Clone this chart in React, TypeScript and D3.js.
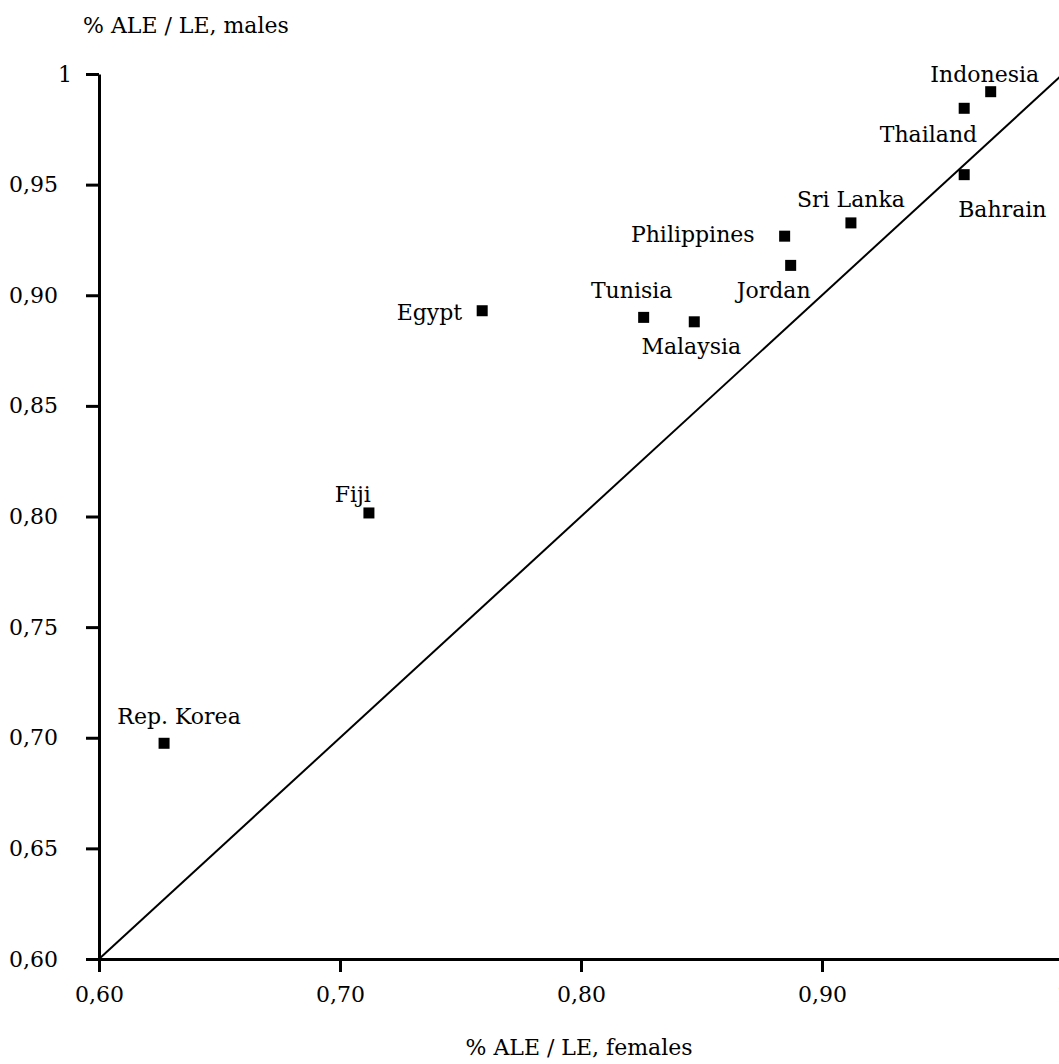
import React, { useRef, useEffect } from "react";
import * as d3 from "d3";

// Country ratios of active life expectancy to life expectancy
const countries = [
  "Indonesia",
  "Thailand",
  "Bahrain",
  "Sri Lanka",
  "Philippines",
  "Jordan",
  "Tunisia",
  "Malaysia",
  "Egypt",
  "Fiji",
  "Rep. Korea",
];
const females = [0.97, 0.959, 0.959, 0.912, 0.8845, 0.887, 0.826, 0.847, 0.759, 0.712, 0.627];
const males = [0.992, 0.9845, 0.9545, 0.9327, 0.9267, 0.9135, 0.89, 0.888, 0.893, 0.8016, 0.6975];

// label placement relative to each marker: [dx, dy, anchor]
const labelPos: [number, number, string][] = [
  [-6, -10, "middle"],
  [13, 34, "end"],
  [-6, 42, "start"],
  [0, -16, "middle"],
  [-30, 6, "end"],
  [-17, 33, "middle"],
  [-12, -19, "middle"],
  [-3, 32, "middle"],
  [-20, 9, "end"],
  [2, -11, "end"],
  [15, -19, "middle"],
];

const xTicks = [0.6, 0.7, 0.8, 0.9, 1];
const yTicks = [0.6, 0.65, 0.7, 0.75, 0.8, 0.85, 0.9, 0.95, 1];

const xTitle = "% ALE / LE, females";
const yTitle = "% ALE / LE, males";

const App = () => {
  const ref = useRef<SVGSVGElement>(null);
  const width = 1059;
  const height = 1064;

  useEffect(() => {
    const container = ref.current;
    if (!container) return;
    d3.select(container).selectChildren().remove();

    const fmt = (d: number) =>
      d === 1 ? "1" : d.toFixed(2).replace(".", ",");

    const x = d3.scaleLinear().domain([0.6, 1]).range([99, 1063]);
    const y = d3.scaleLinear().domain([0.6, 1]).range([959, 74]);

    const svg = d3
      .select(container)
      .style("font-family", "'DejaVu Serif', serif")
      .style("font-size", "22px");

    // Diagonal
    svg
      .append("line")
      .attr("x1", x(0.6))
      .attr("y1", y(0.6))
      .attr("x2", x(1))
      .attr("y2", y(1))
      .attr("stroke", "#000")
      .attr("stroke-width", 2);

    // X axis
    const gx = svg
      .append("g")
      .attr("transform", `translate(0, ${y(0.6)})`)
      .call(
        d3
          .axisBottom(x)
          .tickValues(xTicks)
          .tickFormat((d) => fmt(+d))
          .tickSizeInner(13)
          .tickSizeOuter(0)
          .tickPadding(14)
      );
    gx.select(".domain").attr("stroke-width", 3);
    gx.selectAll(".tick line").attr("stroke-width", 3);
    gx.selectAll("text")
      .attr("font-size", 22)
      .attr("font-family", "'DejaVu Serif', serif")
      .attr("fill", "#000");

    // Y axis
    const gy = svg
      .append("g")
      .attr("transform", `translate(${x(0.6)}, 0)`)
      .call(
        d3
          .axisLeft(y)
          .tickValues(yTicks)
          .tickFormat((d) => fmt(+d))
          .tickSizeInner(13)
          .tickSizeOuter(0)
          .tickPadding(28)
      );
    gy.select(".domain").attr("stroke-width", 3);
    gy.selectAll(".tick line").attr("stroke-width", 3);
    gy.selectAll("text")
      .attr("font-size", 22)
      .attr("font-family", "'DejaVu Serif', serif")
      .attr("fill", "#000")
      .attr("dx", (d) => (+d === 1 ? 14 : 0));

    // Axis titles
    svg
      .append("text")
      .attr("x", 83)
      .attr("y", 33)
      .text(yTitle);
    svg
      .append("text")
      .attr("x", 579)
      .attr("y", 1055)
      .attr("text-anchor", "middle")
      .text(xTitle);

    // Points
    const idx = d3.range(countries.length);
    svg
      .append("g")
      .selectAll("rect")
      .data(idx)
      .enter()
      .append("rect")
      .attr("x", (i) => x(females[i]) - 5.5)
      .attr("y", (i) => y(males[i]) - 5.5)
      .attr("width", 11)
      .attr("height", 11)
      .attr("fill", "#000");

    // Labels
    svg
      .append("g")
      .selectAll("text")
      .data(idx)
      .enter()
      .append("text")
      .attr("x", (i) => x(females[i]) + labelPos[i][0])
      .attr("y", (i) => y(males[i]) + labelPos[i][1])
      .attr("text-anchor", (i) => labelPos[i][2])
      .text((i) => countries[i]);
  }, []);

  return (
    <svg
      ref={ref}
      width={width}
      height={height}
      style={{ position: "absolute", left: 0, top: 0, background: "#fff" }}
    />
  );
};

export default App;
